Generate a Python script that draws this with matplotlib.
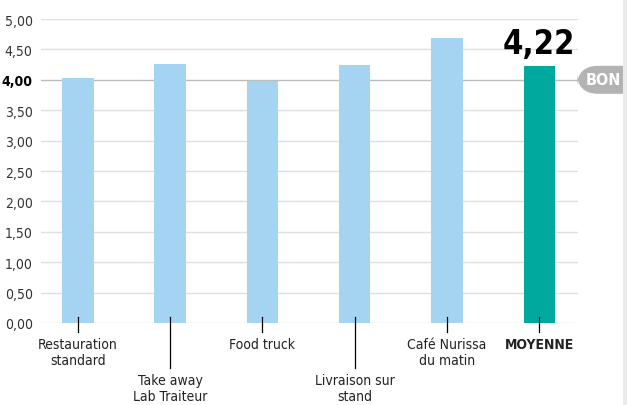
import matplotlib.pyplot as plt
from matplotlib.patches import FancyBboxPatch, Rectangle

# données
categories = ["Restauration\nstandard", "Take away\nLab Traiteur", "Food truck",
              "Livraison sur\nstand", "Café Nurissa\ndu matin", "MOYENNE"]
scores = [4.03, 4.26, 3.98, 4.24, 4.69, 4.22]
moyenne_label = "4,22"
yticks = [0, 0.5, 1, 1.5, 2, 2.5, 3, 3.5, 4, 4.5, 5]
ytick_labels = ["0,00", "0,50", "1,00", "1,50", "2,00", "2,50",
                "3,00", "3,50", "4,00", "4,50", "5,00"]
seuil = 4.0
seuil_label = "BON"

plt.rcParams['font.family'] = ['DejaVu Sans']
plt.rcParams['font.stretch'] = 'condensed'

W, H = 627, 406
fig = plt.figure(figsize=(W / 100, H / 100), dpi=100)
ax = fig.add_axes([41 / W, (H - 324) / H, 537 / W, 304 / H])

colors = ['#a5d4f2'] * (len(scores) - 1) + ['#00a99d']
x = list(range(len(scores)))
ax.bar(x, scores, width=0.34, color=colors, zorder=2)

ax.set_xlim(-0.40, 5.42)
ax.set_ylim(0, 5)
for s in ax.spines.values():
    s.set_visible(False)

# grille
for v in yticks:
    c = '#bdbdbd' if v == seuil else '#e0e0e0'
    ax.axhline(v, color=c, lw=1.0, zorder=1)

ax.set_yticks(yticks)
ax.set_yticklabels(ytick_labels)
ax.tick_params(axis='y', length=0, pad=6, labelsize=10, labelcolor='#333333')
for lbl, v in zip(ax.get_yticklabels(), yticks):
    if v == seuil:
        lbl.set_fontweight('bold')
        lbl.set_color('black')
ax.set_xticks([])

# étiquettes des catégories, alternées sur deux rangées
px = 5 / 304
for i, cat in enumerate(categories):
    low = i in (1, 3)
    y_end = -45 * px if low else -9 * px
    ax.plot([i, i], [6 * px, y_end], color='black', lw=0.9, clip_on=False, zorder=3)
    y_txt = -14 * px if not low else -50 * px
    ax.text(i, y_txt, cat, ha='center', va='top', fontsize=10,
            linespacing=1.2, color='#222222',
            fontweight='bold' if cat == "MOYENNE" else 'normal')

ax.annotate(moyenne_label, (5, scores[-1]), xytext=(0, 10), textcoords='offset points',
            ha='center', va='baseline', fontsize=23.5, fontweight='bold', color='black')

# bande grise à droite + pastille "BON"
y_seuil = 324 - seuil * 304 / 5
badge = FancyBboxPatch((577 / W, (H - y_seuil - 14) / H), 70 / W, 28 / H,
                       boxstyle="round,pad=0,rounding_size=0.034",
                       transform=fig.transFigure, facecolor='#b3b3b3',
                       edgecolor='none', mutation_aspect=W / H)
fig.patches.append(badge)
fig.text(603 / W, (H - y_seuil) / H, seuil_label, ha='center', va='center',
         fontsize=11.5, fontweight='bold', color='white')
fig.patches.append(Rectangle((623 / W, 0), 4 / W, 1, transform=fig.transFigure,
                             facecolor='#ecebe9', edgecolor='none'))

fig.savefig('out.png', dpi=100)
